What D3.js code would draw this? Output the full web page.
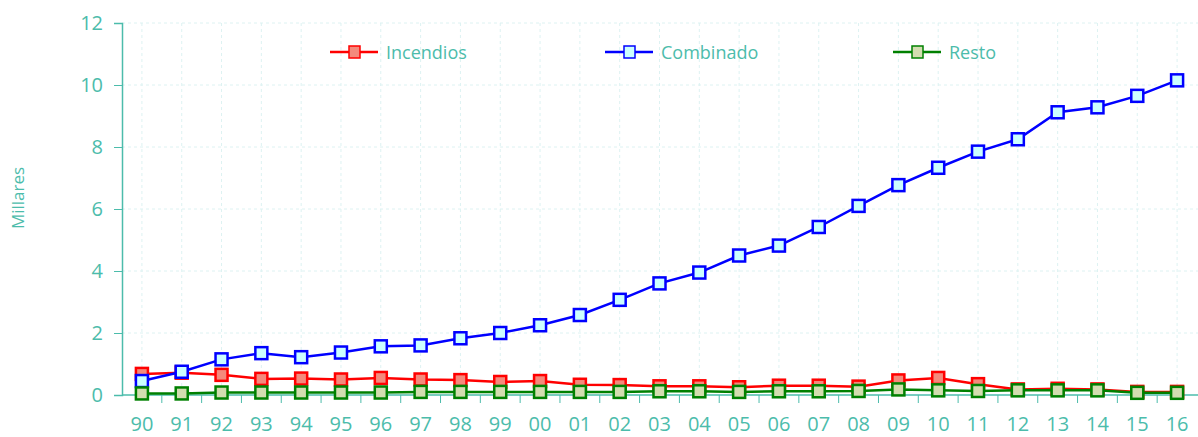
<!DOCTYPE html>
<meta charset="utf-8">
<head>
  <title>Millares</title>
</head>

<style>
body {
  margin: 0;
  background: #fff;
  font-family: "Open Sans", "Noto Sans", sans-serif;
}
</style>

<body>
  <svg width="1198" height="437"></svg>

  <script src="https://cdnjs.cloudflare.com/ajax/libs/d3/7.8.5/d3.min.js"></script>

  <script>
var years = ['90','91','92','93','94','95','96','97','98','99','00','01','02','03','04','05','06','07','08','09','10','11','12','13','14','15','16'];

var incendios = [0.68,0.72,0.65,0.52,0.53,0.5,0.55,0.5,0.48,0.42,0.45,0.33,0.32,0.28,0.28,0.25,0.3,0.3,0.27,0.47,0.55,0.35,0.18,0.2,0.18,0.1,0.1];
var combinado = [0.45,0.75,1.15,1.35,1.22,1.37,1.57,1.6,1.83,2.0,2.25,2.58,3.07,3.6,3.95,4.5,4.82,5.42,6.1,6.77,7.33,7.85,8.25,9.12,9.28,9.65,10.15];
var resto = [0.05,0.05,0.08,0.08,0.08,0.08,0.08,0.1,0.1,0.1,0.1,0.1,0.1,0.12,0.12,0.1,0.12,0.12,0.13,0.18,0.15,0.13,0.15,0.15,0.15,0.07,0.07];

var yTicks = [0, 2, 4, 6, 8, 10, 12];

var series = [
  {name: 'Incendios', values: incendios, stroke: '#ff0000', fill: '#f48a7c', lx: 330},
  {name: 'Combinado', values: combinado, stroke: '#0000ff', fill: '#ccffff', lx: 605},
  {name: 'Resto', values: resto, stroke: '#008000', fill: '#d3ddb0', lx: 893}
];

var teal = '#4cbcab';
var svg = d3.select('svg');

var x = d3.scaleBand()
  .domain(years)
  .range([122, 1197]);

var y = d3.scaleLinear()
  .domain([0, 12])
  .range([395, 23]);

// grid
svg.append('g')
  .selectAll('line')
  .data(yTicks.slice(1))
  .enter().append('line')
  .attr('x1', 122).attr('x2', 1198)
  .attr('y1', d => y(d)).attr('y2', d => y(d))
  .attr('stroke', '#ddf2f2')
  .attr('stroke-dasharray', '3,3');

svg.append('g')
  .selectAll('line')
  .data(years)
  .enter().append('line')
  .attr('x1', d => x(d) + x.bandwidth() / 2).attr('x2', d => x(d) + x.bandwidth() / 2)
  .attr('y1', y(12)).attr('y2', y(0))
  .attr('stroke', '#ddf2f2')
  .attr('stroke-dasharray', '3,3');

// y axis
var yAxis = svg.append('g')
  .attr('transform', 'translate(122,0)')
  .call(d3.axisLeft(y).tickValues(yTicks).tickSize(8).tickPadding(11));

// x axis, ticks on band edges
var xAxis = svg.append('g')
  .attr('transform', 'translate(0,395)')
  .call(d3.axisBottom(x).tickSize(0).tickPadding(22));

xAxis.selectAll('.edge')
  .data(years.slice(1))
  .enter().append('line')
  .attr('class', 'edge')
  .attr('x1', d => x(d)).attr('x2', d => x(d))
  .attr('y1', 0).attr('y2', 8)
  .attr('stroke', teal);

[yAxis, xAxis].forEach(function(g) {
  g.select('.domain').attr('stroke', teal).attr('stroke-width', 1.5);
  g.selectAll('.tick line').attr('stroke', teal);
  g.selectAll('text')
    .attr('fill', teal)
    .style('font-family', '"Open Sans", sans-serif')
    .style('font-size', '20px');
});
xAxis.select('.domain').attr('d', 'M122,0H1198');

svg.append('text')
  .attr('transform', 'translate(24,198) rotate(-90)')
  .attr('text-anchor', 'middle')
  .attr('fill', teal)
  .style('font-size', '17px')
  .text('Millares');

// lines and markers
var line = d3.line()
  .x((d, i) => x(years[i]) + x.bandwidth() / 2)
  .y(d => y(d));

series.forEach(function(s) {
  svg.append('path')
    .attr('d', line(s.values))
    .attr('fill', 'none')
    .attr('stroke', s.stroke)
    .attr('stroke-width', 2.5);

  svg.append('g')
    .selectAll('rect')
    .data(s.values)
    .enter().append('rect')
    .attr('x', (d, i) => x(years[i]) + x.bandwidth() / 2 - 6)
    .attr('y', d => y(d) - 6)
    .attr('width', 12).attr('height', 12)
    .attr('fill', s.fill)
    .attr('stroke', s.stroke)
    .attr('stroke-width', 2.5);
});

// legend
series.forEach(function(s) {
  var g = svg.append('g').attr('transform', 'translate(' + s.lx + ',52)');
  g.append('line')
    .attr('x1', 0).attr('x2', 48)
    .attr('stroke', s.stroke)
    .attr('stroke-width', 2.5);
  g.append('rect')
    .attr('x', 19).attr('y', -6)
    .attr('width', 11).attr('height', 12)
    .attr('fill', s.fill)
    .attr('stroke', s.stroke)
    .attr('stroke-width', 1.5);
  g.append('text')
    .attr('x', 56).attr('y', 7)
    .attr('fill', teal)
    .style('font-size', '18px')
    .text(s.name);
});
  </script>
</body>
</html>
